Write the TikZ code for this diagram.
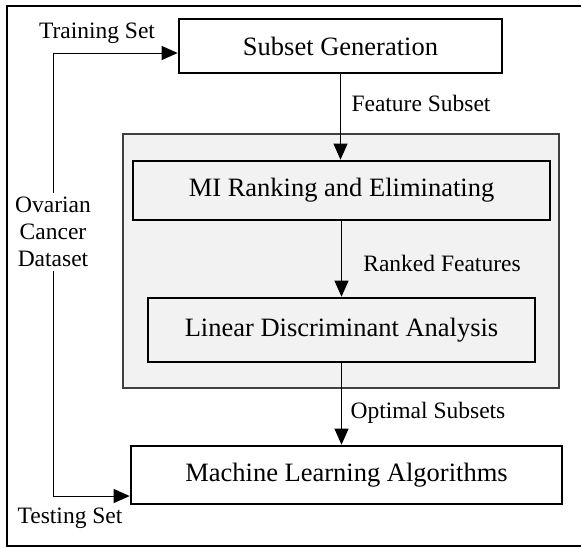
\documentclass[tikz,border=0pt]{standalone}
\usepackage{fontspec}
\setmainfont{Liberation Serif}
\usetikzlibrary{positioning}
\usetikzlibrary{arrows.meta}

\definecolor{panelfill}{HTML}{F2F2F2}
\definecolor{paneledge}{HTML}{404040}

\tikzset{
  stage/.style={draw, line width=1.35pt, inner sep=0pt,
    font=\fontsize{13.25}{15}\selectfont},
  tag/.style={inner sep=2pt, font=\fontsize{11.75}{13.5}\selectfont},
  flow/.style={->, line width=0.5pt}
}

\begin{document}
\begin{tikzpicture}[x=0.5pt, y=-0.5pt, >={Triangle[length=8pt, width=7pt]}]

\useasboundingbox (0,0) rectangle (581,548);

% Outer frame (cut at the right)
\draw[line width=1pt] (600,6) -- (7,6) -- (7,546) -- (600,546);

% Grey panel
\draw[fill=panelfill, draw=paneledge, line width=0.65pt] (123,134) rectangle (559,388);

% Stages
\node[stage, fill=white, minimum width=161.5pt, minimum height=27pt] (sg) at (340.5,46) {Subset Generation};
\node[stage, fill=panelfill, minimum width=208.5pt, minimum height=29.5pt] (mi) at (341.5,190.5) {MI Ranking and Eliminating};
\node[stage, fill=panelfill, minimum width=193.5pt, minimum height=32pt] (lda) at (341.5,330) {Linear Discriminant Analysis};
\node[stage, fill=white, minimum width=215.5pt, minimum height=29pt] (mla) at (346.5,475) {Machine Learning Algorithms};

% Dataset
\node[tag, align=center] (data) at (53,232) {Ovarian\\Cancer\\Dataset};
\coordinate (ctop) at (53,53);
\coordinate (cbot) at (53,496);

% Connections
\draw[flow] (data.north) -- (ctop) -- (ctop -| sg.west);
\draw[flow] (data.south) -- (cbot) -- (cbot -| mla.west);
\draw[flow] (sg.south) -- (sg.south |- mi.north);
\draw[flow] (mi.south) -- (mi.south |- lda.north);
\draw[flow] (lda.south) -- (lda.south |- mla.north);

% Labels
\node[tag] (ltrain) at (97,33) {Training Set};
\node[tag] (ltest) at (70,518) {Testing Set};
\node[tag] (lfeat) at (421,103) {Feature Subset};
\node[tag] (lrank) at (442,263) {Ranked Features};
\node[tag] (lopt) at (428,413) {Optimal Subsets};

\end{tikzpicture}
\end{document}
